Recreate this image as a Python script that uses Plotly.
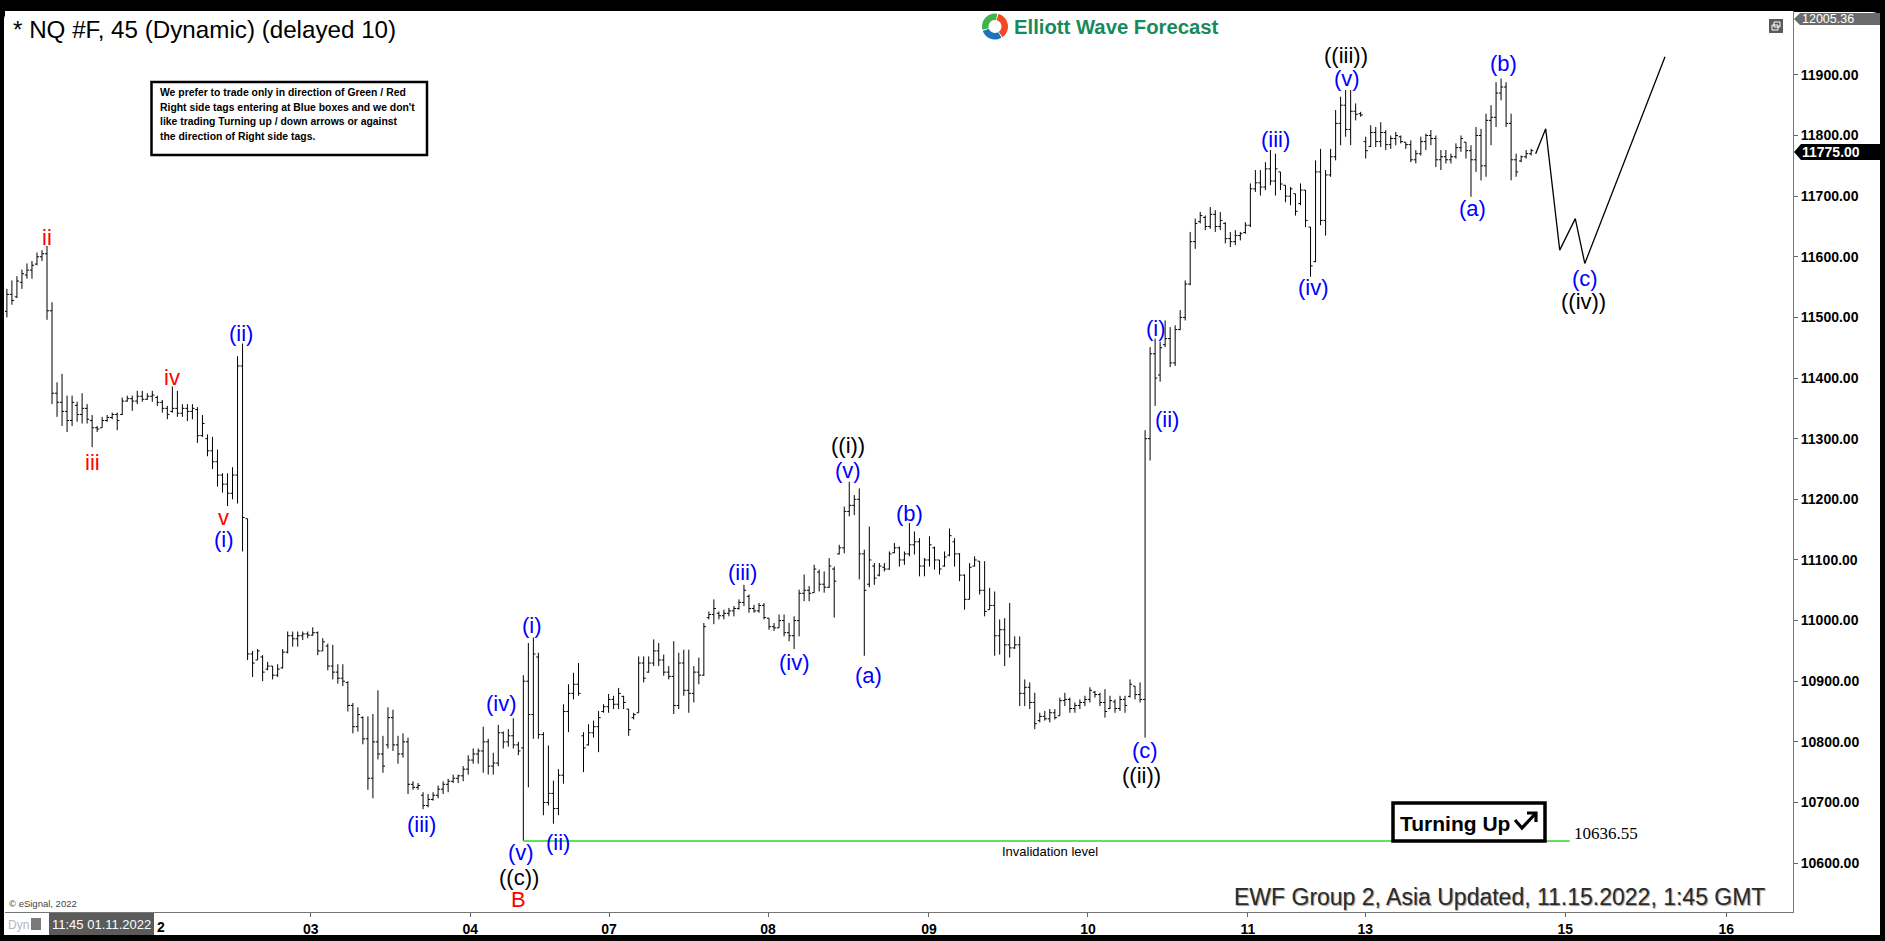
import math
import plotly.graph_objects as go

# ---------------- data ----------------
bar_open = [
    11510, 11538, 11534, 11558, 11570, 11578, 11588, 11600, 11605, 11511,
    11375, 11360, 11345, 11330, 11355, 11340, 11350, 11330, 11318, 11318,
    11330, 11335, 11340, 11340, 11362, 11366, 11362, 11370, 11365, 11370,
    11368, 11360, 11350, 11345, 11350, 11342, 11350, 11345, 11348, 11305,
    11300, 11280, 11262, 11240, 11225, 11210, 11240, 11420, 11168, 10945,
    10935, 10940, 10920, 10925, 10910, 10922, 10948, 10975, 10970, 10975,
    10978, 10976, 10980, 10950, 10958, 10925, 10915, 10905, 10898, 10860,
    10825, 10840, 10805, 10740, 10800, 10780, 10795, 10840, 10795, 10780,
    10800, 10730, 10725, 10712, 10695, 10705, 10712, 10722, 10730, 10735,
    10740, 10744, 10755, 10770, 10780, 10785, 10800, 10760, 10765, 10815,
    10800, 10810, 10795, 10790, 10900, 10845, 10940, 10812, 10700, 10715,
    10690, 10745, 10850, 10880, 10895, 10810, 10795, 10815, 10825, 10850,
    10858, 10870, 10862, 10875, 10854, 10840, 10848, 10930, 10915, 10930,
    10950, 10935, 10915, 10908, 10860, 10930, 10885, 10880, 10915, 10910,
    11005, 11010, 11012, 11008, 11012, 11016, 11020, 11030, 11040, 11020,
    11016, 11025, 11004, 10990, 10988, 11000, 10980, 10975, 11000, 11045,
    11050, 11046, 11080, 11060, 11055, 11085, 11110, 11120, 11180, 11190,
    11200, 11110, 11060, 11090, 11075, 11088, 11085, 11112, 11120, 11100,
    11110, 11125, 11130, 11090, 11100, 11120, 11100, 11090, 11108, 11130,
    11110, 11075, 11035, 11090, 11098, 11050, 11018, 11025, 10975, 10985,
    10960, 10955, 10960, 10880, 10890, 10865, 10835, 10842, 10838, 10848,
    10843, 10868, 10870, 10855, 10860, 10865, 10870, 10882, 10878, 10865,
    10855, 10866, 10855, 10870, 10875, 10892, 10878, 10870, 11300, 11440,
    11405, 11455, 11465, 11425, 11480, 11500, 11555, 11625, 11658, 11665,
    11650, 11670, 11650, 11655, 11630, 11625, 11635, 11640, 11652, 11712,
    11722, 11715, 11745, 11725, 11740, 11718, 11700, 11704, 11688, 11710,
    11649, 11592, 11740, 11660, 11735, 11765, 11820, 11850, 11810, 11840,
    11836, 11790, 11782, 11805, 11790, 11805, 11785, 11795, 11798, 11789,
    11785, 11760, 11770, 11790, 11800, 11795, 11760, 11765, 11760, 11765,
    11780, 11789, 11775, 11760, 11800, 11750, 11825, 11830, 11870, 11880,
    11820, 11760, 11758, 11765, 11770,
]
bar_high = [
    11547, 11561, 11568, 11579, 11589, 11593, 11607, 11611, 11618, 11525,
    11393, 11407, 11371, 11371, 11361, 11375, 11357, 11339, 11321, 11336,
    11339, 11343, 11343, 11368, 11371, 11371, 11379, 11379, 11375, 11379,
    11371, 11364, 11354, 11386, 11379, 11357, 11357, 11357, 11352, 11339,
    11307, 11303, 11282, 11243, 11243, 11253, 11436, 11457, 11168, 10950,
    10953, 10943, 10932, 10925, 10928, 10953, 10982, 10982, 10982, 10982,
    10982, 10989, 10982, 10971, 10962, 10960, 10928, 10928, 10900, 10864,
    10857, 10842, 10842, 10846, 10885, 10810, 10857, 10853, 10810, 10814,
    10807, 10735, 10732, 10717, 10714, 10717, 10728, 10735, 10739, 10746,
    10746, 10760, 10778, 10789, 10789, 10825, 10805, 10782, 10828, 10817,
    10821, 10839, 10800, 10910, 10963, 10972, 10947, 10816, 10794, 10736,
    10755, 10862, 10895, 10914, 10930, 10816, 10829, 10835, 10851, 10862,
    10879, 10876, 10889, 10876, 10854, 10848, 10941, 10941, 10941, 10969,
    10963, 10944, 10925, 10966, 10947, 10952, 10952, 10925, 10939, 10996,
    11015, 11035, 11015, 11018, 11021, 11024, 11035, 11059, 11043, 11026,
    11029, 11029, 11004, 10996, 11010, 11010, 10996, 11007, 11051, 11076,
    11057, 11092, 11084, 11081, 11103, 11089, 11125, 11188, 11229, 11207,
    11218, 11117, 11155, 11095, 11095, 11095, 11114, 11128, 11122, 11114,
    11161, 11147, 11136, 11103, 11139, 11122, 11100, 11114, 11152, 11136,
    11111, 11076, 11095, 11106, 11098, 11098, 11054, 11048, 11002, 11004,
    11029, 10974, 10974, 10903, 10898, 10881, 10848, 10851, 10854, 10854,
    10873, 10881, 10873, 10865, 10870, 10876, 10890, 10884, 10881, 10887,
    10876, 10870, 10876, 10876, 10903, 10892, 10898, 11314, 11451, 11465,
    11460, 11495, 11484, 11487, 11512, 11561, 11641, 11663, 11674, 11668,
    11682, 11677, 11674, 11657, 11641, 11644, 11641, 11657, 11721, 11743,
    11743, 11756, 11776, 11770, 11740, 11718, 11715, 11704, 11721, 11710,
    11649, 11759, 11778, 11743, 11778, 11842, 11864, 11875, 11875, 11853,
    11839, 11798, 11817, 11814, 11822, 11809, 11800, 11806, 11800, 11789,
    11792, 11776, 11798, 11803, 11809, 11800, 11776, 11776, 11770, 11787,
    11800, 11789, 11784, 11814, 11811, 11836, 11850, 11888, 11894, 11888,
    11836, 11770, 11767, 11776, 11778,
]
bar_low = [
    11500, 11521, 11532, 11547, 11564, 11564, 11586, 11593, 11496, 11357,
    11336, 11321, 11311, 11321, 11328, 11325, 11325, 11286, 11311, 11318,
    11328, 11332, 11314, 11339, 11361, 11346, 11357, 11361, 11364, 11361,
    11354, 11343, 11332, 11343, 11336, 11336, 11329, 11332, 11293, 11303,
    11271, 11250, 11221, 11211, 11189, 11200, 11193, 11114, 10935, 10907,
    10935, 10900, 10918, 10903, 10907, 10921, 10946, 10957, 10957, 10968,
    10971, 10975, 10943, 10950, 10918, 10903, 10896, 10892, 10850, 10814,
    10817, 10796, 10721, 10707, 10771, 10749, 10789, 10785, 10764, 10774,
    10714, 10721, 10721, 10689, 10692, 10703, 10707, 10714, 10717, 10732,
    10732, 10735, 10746, 10764, 10764, 10749, 10746, 10746, 10760, 10789,
    10792, 10789, 10778, 10636.55, 10725, 10805, 10805, 10679, 10695, 10665,
    10679, 10731, 10816, 10870, 10876, 10750, 10794, 10807, 10783, 10848,
    10848, 10854, 10854, 10854, 10810, 10837, 10848, 10898, 10914, 10925,
    10925, 10909, 10903, 10846, 10854, 10876, 10848, 10865, 10895, 10909,
    11002, 10994, 11002, 11002, 11007, 11007, 11018, 11024, 11013, 11013,
    11013, 11002, 10985, 10983, 10988, 10974, 10966, 10953, 10974, 11032,
    11032, 11046, 11048, 11046, 11054, 11005, 11109, 11111, 11172, 11174,
    11068, 10942, 11055, 11059, 11073, 11081, 11084, 11111, 11089, 11092,
    11106, 11109, 11073, 11073, 11089, 11084, 11076, 11089, 11106, 11089,
    11065, 11018, 11035, 11089, 11043, 11007, 11018, 10942, 10944, 10925,
    10939, 10953, 10859, 10859, 10854, 10821, 10832, 10835, 10832, 10837,
    10843, 10859, 10848, 10848, 10854, 10859, 10865, 10873, 10859, 10840,
    10854, 10848, 10851, 10848, 10873, 10870, 10865, 10807, 11264, 11354,
    11394, 11451, 11418, 11420, 11479, 11495, 11553, 11613, 11655, 11644,
    11646, 11641, 11644, 11622, 11616, 11619, 11627, 11638, 11649, 11707,
    11701, 11710, 11718, 11701, 11710, 11690, 11685, 11668, 11685, 11649,
    11567, 11591, 11652, 11635, 11732, 11759, 11784, 11798, 11784, 11825,
    11831, 11762, 11781, 11781, 11781, 11776, 11778, 11784, 11787, 11778,
    11756, 11754, 11767, 11776, 11784, 11748, 11743, 11754, 11754, 11762,
    11773, 11762, 11699, 11740, 11726, 11732, 11784, 11814, 11858, 11814,
    11726, 11732, 11756, 11762, 11767,
]
bar_close = [
    11538, 11528, 11560, 11572, 11578, 11586, 11600, 11605, 11511, 11375,
    11360, 11345, 11330, 11360, 11340, 11350, 11332, 11318, 11316, 11330,
    11335, 11340, 11330, 11362, 11366, 11362, 11370, 11365, 11370, 11372,
    11360, 11350, 11340, 11350, 11342, 11350, 11345, 11350, 11305, 11325,
    11280, 11262, 11240, 11225, 11210, 11240, 11420, 11170, 10945, 10930,
    10950, 10915, 10925, 10910, 10920, 10948, 10975, 10970, 10975, 10978,
    10976, 10980, 10950, 10965, 10925, 10915, 10905, 10900, 10860, 10825,
    10845, 10805, 10740, 10800, 10780, 10760, 10840, 10795, 10780, 10800,
    10730, 10725, 10728, 10695, 10705, 10712, 10722, 10730, 10735, 10740,
    10744, 10755, 10770, 10780, 10785, 10800, 10760, 10765, 10815, 10800,
    10810, 10795, 10785, 10900, 10845, 10945, 10812, 10700, 10715, 10690,
    10745, 10850, 10880, 10895, 10880, 10790, 10815, 10825, 10840, 10858,
    10870, 10862, 10880, 10865, 10820, 10845, 10930, 10905, 10930, 10950,
    10935, 10915, 10908, 10860, 10930, 10885, 10880, 10915, 10910, 10990,
    11010, 11020, 11008, 11012, 11016, 11020, 11030, 11050, 11020, 11016,
    11025, 11005, 10990, 10988, 11000, 10980, 10975, 11000, 11045, 11050,
    11045, 11085, 11060, 11055, 11090, 11065, 11120, 11180, 11190, 11200,
    11110, 11050, 11100, 11070, 11090, 11085, 11110, 11120, 11100, 11110,
    11125, 11130, 11090, 11100, 11125, 11100, 11085, 11105, 11140, 11110,
    11075, 11035, 11088, 11100, 11050, 11015, 11025, 10975, 10985, 10960,
    10955, 10960, 10880, 10890, 10865, 10830, 10842, 10838, 10848, 10840,
    10868, 10870, 10855, 10860, 10865, 10870, 10885, 10878, 10865, 10850,
    10868, 10855, 10870, 10860, 10895, 10878, 10870, 11300, 11440, 11400,
    11450, 11465, 11425, 11480, 11500, 11555, 11625, 11655, 11668, 11650,
    11670, 11650, 11660, 11630, 11625, 11635, 11638, 11652, 11712, 11722,
    11715, 11745, 11725, 11745, 11720, 11700, 11712, 11675, 11710, 11660,
    11585, 11740, 11660, 11735, 11765, 11820, 11850, 11810, 11840, 11835,
    11834, 11775, 11805, 11790, 11805, 11785, 11795, 11800, 11790, 11785,
    11760, 11770, 11790, 11800, 11795, 11760, 11765, 11760, 11765, 11780,
    11795, 11775, 11760, 11800, 11750, 11825, 11830, 11870, 11880, 11820,
    11760, 11740, 11765, 11770, 11775,
]
assert len(bar_open) == len(bar_high) == len(bar_low) == len(bar_close)
bar_index = list(range(len(bar_close)))

# day separators on the bar-index axis, and their labels
day_tick_pos = [28.9, 60.6, 92.4, 120.1, 151.8, 183.9, 215.6, 247.5, 270.9, 310.8, 342.9]
day_tick_text = ["02", "03", "04", "07", "08", "09", "10", "11", "13", "15", "16"]

price_ticks = [10600, 10700, 10800, 10900, 11000, 11100, 11200, 11300,
               11400, 11500, 11600, 11700, 11800, 11900]
scale_top = 12005.36

# projected path drawn after the last bar
projection_x = [304.9, 306.9, 309.7, 312.8, 314.7, 330.7]
projection_y = [11770, 11811, 11611, 11663, 11589, 11930]

invalidation_level = 10636.55
invalidation_start = 103      # bar of the B low
invalidation_end = 311.7

wave_labels = [  # text, bar position, price, colour
    ("ii", 7.9, 11632, "red"), ("iii", 17.0, 11261, "red"),
    ("iv", 33.0, 11401, "red"), ("v", 43.1, 11170, "red"),
    ("(i)", 43.3, 11134, "blue"), ("(ii)", 46.7, 11473, "blue"),
    ("(iii)", 82.7, 10664, "blue"), ("(iv)", 98.7, 10864, "blue"),
    ("(v)", 102.5, 10617, "blue"), ("((c))", 102.1, 10577, "black"),
    ("B", 102.1, 10540, "red"), ("(i)", 104.7, 10992, "blue"),
    ("(ii)", 109.9, 10634, "blue"), ("(iii)", 146.7, 11079, "blue"),
    ("(iv)", 157.0, 10931, "blue"), ("((i))", 167.7, 11289, "black"),
    ("(v)", 167.7, 11247, "blue"), ("(a)", 171.9, 10909, "blue"),
    ("(b)", 180.1, 11177, "blue"), ("(c)", 226.9, 10785, "blue"),
    ("((ii))", 226.2, 10744, "black"), ("(i)", 229.2, 11482, "blue"),
    ("(ii)", 231.4, 11332, "blue"), ("(iii)", 253.1, 11793, "blue"),
    ("(iv)", 260.5, 11549, "blue"), ("((iii))", 267.1, 11932, "black"),
    ("(v)", 267.2, 11894, "blue"), ("(a)", 292.3, 11679, "blue"),
    ("(b)", 298.4, 11919, "blue"), ("(c)", 314.8, 11564, "blue"),
    ("((iv))", 314.5, 11527, "black"),
]
COLORS = {"red": "#ff0000", "blue": "#0000ff", "black": "#000000"}

note_lines = [
    "We prefer to trade only in direction of Green / Red",
    "Right side tags entering at Blue boxes and we don't",
    "like trading Turning up / down arrows or against",
    "the direction of Right side tags.",
]

# ---------------- geometry ----------------
W, H = 1885, 941
PL, PR, PT, PB = 5, 1793, 11, 912
PX_PER_BAR, BAR0_PX = 5.014, 6.9
X_RANGE = [(PL - BAR0_PX) / PX_PER_BAR, (PR - BAR0_PX) / PX_PER_BAR]
Y_RANGE = [10519.4, scale_top]


def px(x):
    return (x - PL) / (PR - PL)


def py(y):
    return (PB - y) / (PB - PT)


def pth(points, close=True):
    s = "M " + " L ".join(f"{px(x):.5f},{py(y):.5f}" for x, y in points)
    return s + (" Z" if close else "")


FONT = "Liberation Sans, Arial, sans-serif"

fig = go.Figure()
fig.add_trace(go.Ohlc(
    x=bar_index, open=bar_open, high=bar_high, low=bar_low, close=bar_close,
    increasing=dict(line=dict(color="black", width=1)),
    decreasing=dict(line=dict(color="black", width=1)),
    tickwidth=0.42, hoverinfo="skip", showlegend=False))
fig.add_trace(go.Scatter(x=projection_x, y=projection_y, mode="lines",
                         line=dict(color="black", width=1.3), hoverinfo="skip"))
fig.add_trace(go.Scatter(x=[invalidation_start, invalidation_end],
                         y=[invalidation_level, invalidation_level], mode="lines",
                         line=dict(color="#5fe35f", width=2), hoverinfo="skip",
                         cliponaxis=False))

shapes = []
ann = []


def text_at(x, y, text, size, color="black", family=FONT, xanchor="left", **kw):
    ann.append(dict(x=px(x), y=py(y), xref="paper", yref="paper", xanchor=xanchor,
                    yanchor="middle", text=text, showarrow=False,
                    font=dict(family=family, size=size, color=color, **kw)))


# white panel with rounded top corners
r = 8
panel = (f"M {px(PL + r):.5f},{py(12):.5f} L {px(1880 - r):.5f},{py(12):.5f} "
         f"Q {px(1880):.5f},{py(12):.5f} {px(1880):.5f},{py(12 + r):.5f} "
         f"L {px(1880):.5f},{py(935):.5f} L {px(4):.5f},{py(935):.5f} "
         f"L {px(4):.5f},{py(12 + r):.5f} Q {px(4):.5f},{py(12):.5f} {px(PL + r):.5f},{py(12):.5f} Z")
shapes.append(dict(type="path", path=panel, xref="paper", yref="paper",
                   fillcolor="white", line=dict(width=0), layer="below"))

# wave labels
for text, xi, yv, c in wave_labels:
    ann.append(dict(x=xi, y=yv, xref="x", yref="y", text=text, showarrow=False,
                    xanchor="center", yanchor="middle",
                    font=dict(family=FONT, size=22, color=COLORS[c])))

# invalidation texts
ann.append(dict(x=208.0, y=10620, xref="x", yref="y", text="Invalidation level",
                showarrow=False, xanchor="center", yanchor="middle",
                font=dict(family=FONT, size=13, color="black")))
text_at(1572, 833, f"{invalidation_level:.2f}", 17,
        family="Liberation Serif, Times New Roman, serif")

# title and logo
text_at(11, 29.5, "* NQ #F, 45 (Dynamic) (delayed 10)", 24.2)
text_at(1012, 27, "<b>Elliott Wave Forecast</b>", 20.3, color="#178a5b")
cx, cy, ro, ri = 995.0, 26.5, 13.0, 6.5
for a0, a1, col in [(80, 195, "#3db54a"), (200, 300, "#1d74bb"), (305, 435, "#ef4a23")]:
    pts = []
    for k in range(13):
        a = math.radians(a0 + (a1 - a0) * k / 12)
        pts.append((cx + ro * math.cos(a), cy - ro * math.sin(a)))
    for k in range(13):
        a = math.radians(a1 - (a1 - a0) * k / 12)
        pts.append((cx + ri * math.cos(a), cy - ri * math.sin(a)))
    shapes.append(dict(type="path", path=pth(pts), xref="paper", yref="paper",
                       fillcolor=col, line=dict(width=0), layer="above"))

# note box
shapes.append(dict(type="rect", xref="paper", yref="paper", x0=px(151.5), x1=px(427),
                   y0=py(155), y1=py(82), fillcolor="white",
                   line=dict(color="black", width=2.5), layer="above"))
for i, line in enumerate(note_lines):
    text_at(157.5, 92.8 + 14.4 * i, f"<b>{line}</b>", 10.4)

# Turning Up box
shapes.append(dict(type="rect", xref="paper", yref="paper", x0=px(1393), x1=px(1545),
                   y0=py(841), y1=py(803), fillcolor="white",
                   line=dict(color="black", width=3.5), layer="above"))
text_at(1398, 823, "<b>Turning Up</b>", 21)
shapes.append(dict(type="path", xref="paper", yref="paper",
                   path=pth([(1515, 820), (1522, 828), (1536, 813)], close=False),
                   line=dict(color="black", width=3.2), layer="above"))
shapes.append(dict(type="path", xref="paper", yref="paper",
                   path=pth([(1527, 813), (1536, 813), (1536, 822)], close=False),
                   line=dict(color="black", width=3.2), layer="above"))

# price tags on the right scale
last = bar_close[-1]
shapes.append(dict(type="path", xref="paper", yref="paper",
                   path=pth([(1794, 152), (1801, 144), (1880, 144), (1880, 160), (1801, 160)]),
                   fillcolor="black", line=dict(width=0), layer="above"))
text_at(1800, 152, f"<b>{last:.2f}</b>", 14, color="white")
shapes.append(dict(type="path", xref="paper", yref="paper",
                   path=pth([(1794, 19), (1800, 13), (1880, 13), (1880, 25), (1800, 25)]),
                   fillcolor="#6b6b6b", line=dict(width=0), layer="above"))
text_at(1800, 19, f"{scale_top:.2f}", 12.5, color="white")

# small window icon top right
shapes.append(dict(type="rect", xref="paper", yref="paper", x0=px(1769), x1=px(1783),
                   y0=py(33), y1=py(19), fillcolor="#5a5a5a", line=dict(width=0), layer="above"))
shapes.append(dict(type="rect", xref="paper", yref="paper", x0=px(1772), x1=px(1778),
                   y0=py(30), y1=py(25), fillcolor="#5a5a5a",
                   line=dict(color="white", width=1), layer="above"))
shapes.append(dict(type="rect", xref="paper", yref="paper", x0=px(1774), x1=px(1780),
                   y0=py(27), y1=py(22), fillcolor="rgba(0,0,0,0)",
                   line=dict(color="white", width=1), layer="above"))

# bottom strip items
shapes.append(dict(type="rect", xref="paper", yref="paper", x0=px(49), x1=px(154),
                   y0=py(935), y1=py(913), fillcolor="#5b5b5b", line=dict(width=0), layer="above"))
text_at(101.5, 924.5, "11:45 01.11.2022", 13, color="white", xanchor="center")
# the first day label is partly hidden by the date box: only its last digit shows
text_at(155, 926.5, f"<b>{day_tick_text[0][-1]}</b>", 14)
text_at(6, 924.5, "Dyn", 12, color="#b8b8b8")
shapes.append(dict(type="rect", xref="paper", yref="paper", x0=px(31), x1=px(41),
                   y0=py(930), y1=py(918), fillcolor="#7a7a7a", line=dict(width=0), layer="above"))
text_at(7, 903, "\u00a9 eSignal, 2022", 9.5, color="#444444")
text_at(1767, 897, "EWF Group 2, Asia Updated, 11.15.2022, 1:45 GMT", 23,
        color="#2a2a2a", xanchor="right", shadow="1px 1px 1px #9a9a9a")

tick_labels = [""] + [f"<b>{t}</b>" for t in day_tick_text[1:]]

fig.update_layout(
    template="none", width=W, height=H, autosize=False,
    margin=dict(l=PL, r=W - PR, t=PT, b=H - PB, pad=0),
    paper_bgcolor="black", plot_bgcolor="white", showlegend=False,
    shapes=shapes, annotations=ann, hovermode=False,
    xaxis=dict(range=X_RANGE, autorange=False, rangeslider=dict(visible=False),
               tickmode="array", tickvals=day_tick_pos, ticktext=tick_labels,
               ticks="outside", ticklen=4, tickcolor="#666666", showline=True,
               linecolor="#777777", linewidth=1, showgrid=False, zeroline=False,
               tickfont=dict(family=FONT, size=14, color="black"), automargin=False),
    yaxis=dict(range=Y_RANGE, autorange=False, side="right", tickmode="array",
               tickvals=price_ticks, ticktext=[f"<b>{v:.2f}</b>" for v in price_ticks],
               ticks="outside", ticklen=4, tickcolor="#666666", showline=True,
               linecolor="#777777", linewidth=1, showgrid=False, zeroline=False,
               tickfont=dict(family=FONT, size=14, color="black"), automargin=False),
)
fig.write_html(
    "out.html",
    config={"displayModeBar": False, "staticPlot": True},
    post_script="document.body.style.margin='0';document.body.style.padding='0';"
                "document.body.style.background='black';document.body.style.overflow='hidden';",
)
